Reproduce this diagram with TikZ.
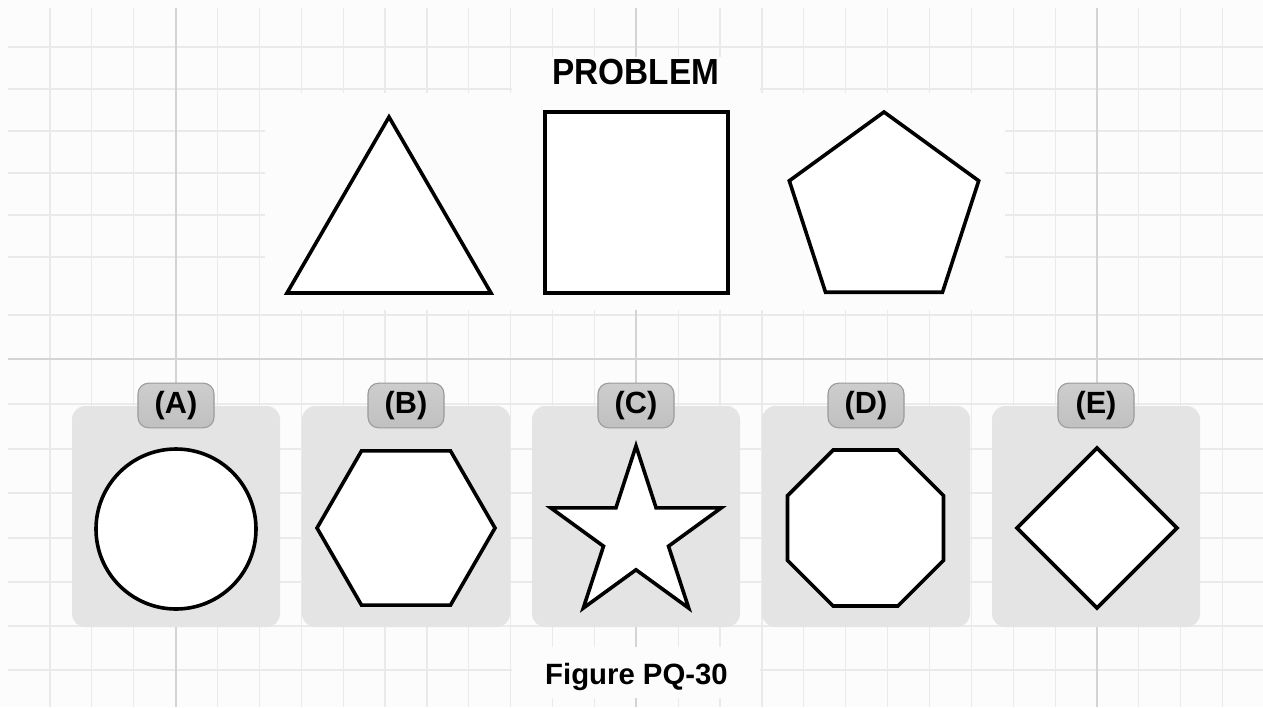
\documentclass[tikz,border=0pt]{standalone}
\usepackage{fontspec}
\setmainfont{Liberation Sans}
\newfontfamily\hdfont[FakeStretch=0.92]{Liberation Sans}
\definecolor{bgc}{HTML}{FCFCFC}
\definecolor{gridminor}{HTML}{EAEAEA}
\definecolor{gridmajor}{HTML}{D4D4D4}
\definecolor{panelc}{HTML}{E4E4E4}
\definecolor{pillc}{HTML}{C0C0C0}
\definecolor{pilltop}{HTML}{CDCDCD}
\definecolor{pillb}{HTML}{9A9A9A}
\tikzset{
  minorline/.style={draw=gridminor, line width=0.9pt},
  majorline/.style={draw=gridmajor, line width=1.0pt},
  whitebox/.style={fill=bgc, draw=none},
  panel/.style={fill=panelc, draw=none, rounded corners=10pt},
  pill/.style={top color=pilltop, bottom color=pillc, draw=pillb, line width=0.8pt, rounded corners=8pt, minimum width=57pt, minimum height=33.5pt, inner sep=0pt, font=\bfseries\fontsize{23}{23}\selectfont},
  outline/.style={draw=black, fill=white, line width=2.7pt, line join=miter},
  titletext/.style={font=\hdfont\bfseries\fontsize{27.2}{27}\selectfont, inner sep=0pt, anchor=base},
  captext/.style={font=\bfseries\fontsize{22}{22}\selectfont, inner sep=0pt, anchor=base}
}
\begin{document}
\begin{tikzpicture}[x=0.75pt, y=-0.75pt]
% background and bounding box
\fill[bgc] (0,0) rectangle (1263,707);
\useasboundingbox (0,0) rectangle (1263,707);
% grid
\foreach \k in {0,...,28} {
  \pgfmathsetmacro{\xx}{50+41.88*\k}
  \draw[minorline] (\xx,8) -- (\xx,707);
}
\foreach \yy in {47,89,131,173,215,257,315,404,449,493,538,582,626,670} {
  \draw[minorline] (8,\yy) -- (1263,\yy);
}
\foreach \xx in {176,636,1097} {
  \draw[majorline] (\xx,8) -- (\xx,707);
}
\draw[majorline] (8,359) -- (1263,359);
% white areas behind the problem row and texts
\fill[whitebox] (265,93) rectangle (1005,310);
\fill[whitebox] (512,57) rectangle (760,94);
\fill[whitebox] (512,647) rectangle (760,698);
% title
\node[titletext] (title) at (636,84) {PROBLEM};
% problem shapes
\draw[outline] (389,117) -- (491,293) -- (287,293) -- cycle;
\draw[outline] (545,112) rectangle (728,293);
\draw[outline] (884,112) -- (978.7,180.8) -- (942.5,292.2) -- (825.5,292.2) -- (789.3,180.8) -- cycle;
% answer panels
\foreach \cx/\lab in {176/A,406/B,636/C,866/D,1096/E} {
  \fill[panel] (\cx-104,406) rectangle (\cx+104,627);
  \node[pill] (pill\lab) at (\cx,405.5) {(\lab)};
}
% A: circle
\draw[outline] (176,529) circle[radius=80];
% B: hexagon
\draw[outline] (495,528) -- (450.5,605.1) -- (361.5,605.1) -- (317,528) -- (361.5,450.9) -- (450.5,450.9) -- cycle;
% C: star
\draw[outline] (636,446) -- (656.1,507.9) -- (721.2,507.9) -- (668.5,546.2) -- (688.7,608.1) -- (636,569.8) -- (583.3,608.1) -- (603.5,546.2) -- (550.8,507.9) -- (615.9,507.9) -- cycle;
% D: octagon
\draw[outline] (943.5,495.7) -- (943.5,560.3) -- (897.8,606) -- (833.2,606) -- (787.5,560.3) -- (787.5,495.7) -- (833.2,450) -- (897.8,450) -- cycle;
% E: diamond
\draw[outline] (1097,448) -- (1177,528) -- (1097,608) -- (1017,528) -- cycle;
% caption
\node[captext] (caption) at (636.5,684) {Figure PQ-30};
\end{tikzpicture}
\end{document}
